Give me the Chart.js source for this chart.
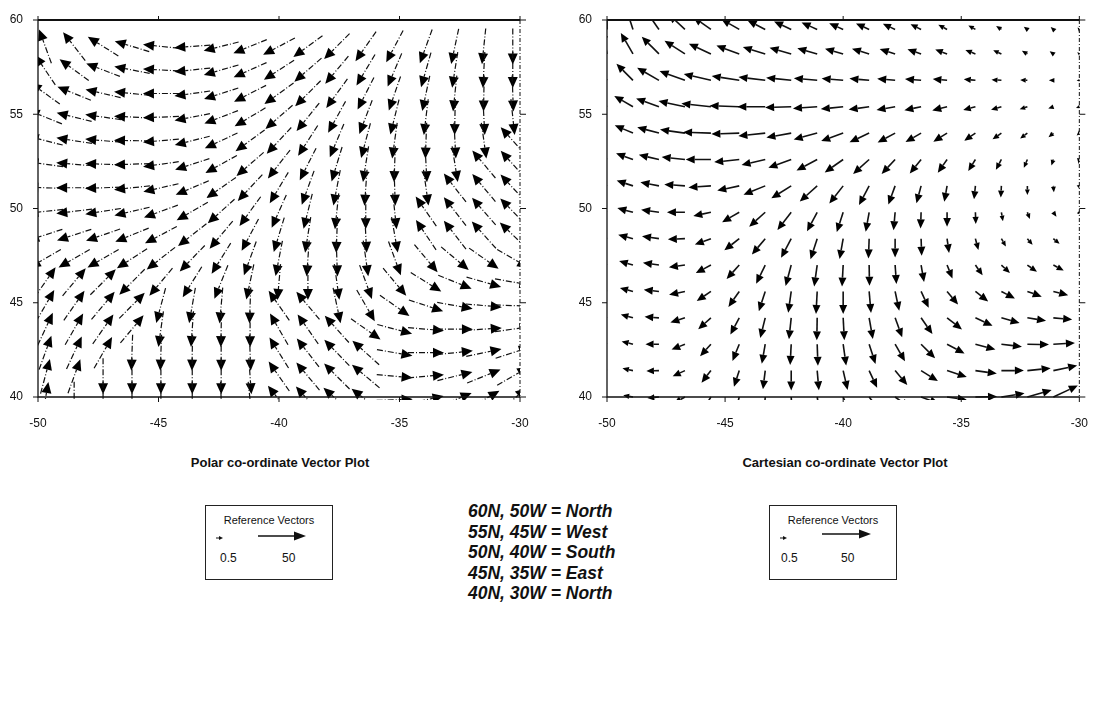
<!DOCTYPE html>
<html>
<head>
<meta charset="utf-8">
<script src="https://cdn.jsdelivr.net/npm/chart.js@4.4.1/dist/chart.umd.min.js"></script>
<style>
  body { margin: 0; background: #fff; width: 1099px; height: 725px; position: relative; overflow: hidden;
         font-family: Arial, "Liberation Sans", sans-serif; color: #111; }
  canvas { position: absolute; top: 0; }
  .title { position: absolute; top: 455px; width: 400px; text-align: center; font-weight: bold; font-size: 13px; line-height: 16px; }
  .refbox { position: absolute; top: 505px; width: 126px; height: 73px; border: 1px solid #222; }
  .refbox .cap { position: absolute; top: 8px; left: 0; width: 100%; text-align: center; font-size: 11px; }
  .refbox .num { position: absolute; top: 45px; font-size: 12px; }
  .refbox svg { position: absolute; left: 0; top: 0; }
  .names { position: absolute; left: 468px; top: 501px; font-weight: bold; font-style: italic; font-size: 17.5px; line-height: 20.5px; }
</style>
</head>
<body>
<canvas id="polarChart" width="545" height="440" style="left:0"></canvas>
<canvas id="cartChart" width="529" height="440" style="left:570px"></canvas>

<div class="title" style="left:80px">Polar co-ordinate Vector Plot</div>
<div class="title" style="left:645px">Cartesian co-ordinate Vector Plot</div>

<div class="refbox" id="refLeft" style="left:205px"></div>
<div class="names" id="names"></div>
<div class="refbox" id="refRight" style="left:769px"></div>

<script>
// axis ticks
const lonTicks = [-50, -45, -40, -35, -30];
const latTicks = [40, 45, 50, 55, 60];

// reference stations and the vectors given to them
const stationNames = ['60N, 50W', '55N, 45W', '50N, 40W', '45N, 35W', '40N, 30W'];
const stationDirs = ['North', 'West', 'South', 'East', 'North'];
const refValues = [0.5, 50];

// polar plot grid (arrow bearing in degrees, 0 = north, clockwise)
const polarLons = [-49.7, -48.5, -47.3, -46.1, -44.9, -43.6, -42.4, -41.2, -40.0, -38.8, -37.6, -36.4, -35.2, -33.9, -32.7, -31.5, -30.3];
const polarLats = [58.6, 57.35, 56.1, 54.85, 53.6, 52.35, 51.1, 49.85, 48.6, 47.35, 46.1, 44.85, 43.6, 42.35, 41.1, 39.85];
const polarDir = [
  [340, 322, 302, 287, 276, 266, 256, 248, 242, 234, 225, 215, 208, 200, 192, 186, 180],
  [326, 306, 291, 281, 273, 264, 254, 246, 237, 229, 220, 211, 203, 196, 189, 183, 180],
  [306, 292, 283, 276, 270, 262, 252, 243, 234, 225, 216, 207, 199, 192, 186, 181, 178],
  [292, 284, 278, 273, 268, 259, 249, 239, 229, 219, 209, 201, 194, 187, 181, 177, 174],
  [284, 279, 275, 271, 265, 256, 245, 234, 223, 213, 203, 195, 188, 182, 177, 172, 318],
  [278, 275, 272, 268, 262, 252, 241, 229, 218, 207, 197, 189, 182, 177, 171, 320, 318],
  [272, 270, 268, 264, 257, 247, 235, 223, 211, 200, 191, 184, 178, 172, 322, 320, 317],
  [264, 263, 261, 257, 250, 240, 228, 216, 204, 194, 186, 180, 174, 325, 322, 319, 316],
  [252, 252, 251, 248, 242, 232, 220, 208, 197, 189, 182, 177, 170, 326, 322, 318, 314],
  [240, 240, 240, 237, 232, 224, 212, 200, 191, 184, 178, 172, 160, 140, 130, 125, 120],
  [35, 40, 45, 225, 220, 212, 202, 192, 185, 180, 172, 160, 140, 122, 112, 106, 100],
  [30, 35, 40, 45, 195, 190, 185, 182, 325, 320, 168, 150, 125, 108, 100, 95, 92],
  [25, 30, 35, 40, 188, 184, 181, 180, 330, 325, 318, 125, 105, 95, 90, 86, 82],
  [20, 25, 30, 182, 182, 181, 180, 178, 328, 322, 316, 312, 100, 90, 84, 78, 72],
  [15, 20, 180, 180, 180, 180, 180, 176, 325, 320, 315, 310, 95, 85, 76, 68, 60],
  [10, 180, 180, 180, 180, 180, 178, 174, 322, 318, 312, 308, 88, 78, 68, 60, 50]
];
const polarSpeed = 40; // every polar arrow is drawn the same length

// cartesian plot grid
const cartLons = [-50, -48.9, -47.8, -46.7, -45.6, -44.4, -43.3, -42.2, -41.1, -40, -38.9, -37.8, -36.7, -35.6, -34.4, -33.3, -32.2, -31.1, -30];
const cartLats = [59.5, 58.2, 56.8, 55.4, 54.0, 52.6, 51.2, 49.8, 48.4, 47.0, 45.6, 44.2, 42.8, 41.4, 40.0];
const cartDir = [
  [0, 342, 325, 313, 305, 300, 297, 295, 294, 294, 294, 295, 296, 298, 300, 303, 307, 312, 318],
  [350, 330, 315, 303, 295, 290, 287, 286, 286, 286, 287, 288, 289, 290, 292, 295, 300, 305, 310],
  [330, 315, 300, 290, 283, 279, 277, 276, 275, 275, 275, 275, 275, 275, 275, 274, 272, 270, 268],
  [310, 300, 290, 282, 276, 272, 270, 268, 266, 264, 262, 260, 258, 256, 255, 254, 252, 250, 248],
  [300, 293, 285, 278, 272, 268, 264, 260, 255, 250, 245, 242, 240, 238, 236, 235, 233, 230, 228],
  [296, 290, 283, 276, 270, 264, 257, 250, 242, 235, 228, 223, 219, 215, 212, 208, 203, 198, 190],
  [294, 288, 281, 274, 266, 258, 248, 238, 228, 218, 208, 200, 195, 190, 186, 183, 180, 175, 165],
  [290, 285, 278, 270, 258, 240, 228, 218, 208, 198, 190, 185, 182, 180, 178, 170, 160, 145, 135],
  [292, 285, 278, 268, 250, 232, 220, 208, 198, 190, 182, 180, 178, 172, 165, 150, 140, 130, 125],
  [292, 286, 278, 262, 242, 222, 206, 195, 188, 183, 179, 176, 170, 158, 145, 133, 125, 118, 112],
  [292, 285, 276, 258, 236, 215, 198, 188, 183, 180, 175, 168, 155, 140, 128, 118, 110, 104, 100],
  [292, 285, 274, 252, 228, 208, 194, 186, 181, 177, 170, 160, 145, 128, 115, 106, 99, 95, 92],
  [290, 284, 270, 248, 222, 202, 190, 183, 178, 172, 162, 150, 135, 118, 105, 97, 91, 87, 84],
  [288, 282, 268, 245, 218, 198, 187, 180, 175, 167, 155, 140, 122, 108, 98, 90, 84, 78, 72],
  [285, 280, 265, 240, 212, 195, 184, 177, 170, 158, 142, 126, 110, 98, 89, 81, 74, 65, 52]
];
const cartSpeed = [
  [33, 30, 27, 25, 24, 23, 22, 21, 19, 17, 16, 15, 13, 11, 9, 7, 5, 4, 3],
  [28, 27, 27, 27, 27, 27, 26, 25, 23, 21, 20, 18, 16, 14, 12, 10, 7, 5, 3],
  [25, 26, 28, 30, 31, 31, 30, 28, 26, 24, 22, 20, 18, 16, 13, 11, 8, 5, 3],
  [22, 24, 27, 30, 33, 33, 31, 29, 27, 25, 23, 21, 19, 17, 14, 12, 9, 6, 4],
  [20, 22, 25, 28, 31, 31, 30, 28, 27, 26, 24, 22, 20, 18, 15, 12, 10, 7, 4],
  [18, 20, 23, 26, 28, 28, 27, 27, 26, 25, 24, 22, 20, 18, 15, 13, 10, 7, 5],
  [17, 19, 21, 23, 25, 25, 26, 26, 26, 25, 24, 22, 20, 18, 15, 13, 10, 7, 5],
  [15, 18, 20, 20, 20, 22, 24, 25, 24, 23, 22, 20, 18, 16, 13, 10, 8, 6, 5],
  [14, 17, 19, 19, 19, 21, 23, 24, 24, 23, 22, 21, 19, 16, 13, 10, 9, 9, 9],
  [13, 16, 18, 18, 19, 21, 23, 24, 24, 24, 23, 21, 19, 16, 14, 13, 13, 13, 13],
  [13, 15, 17, 18, 19, 21, 23, 24, 25, 25, 24, 22, 20, 19, 18, 17, 17, 17, 17],
  [12, 14, 16, 17, 19, 21, 23, 24, 25, 25, 24, 23, 22, 21, 21, 21, 21, 21, 21],
  [11, 13, 15, 16, 18, 20, 22, 23, 24, 24, 23, 22, 22, 22, 23, 23, 24, 24, 24],
  [10, 12, 14, 15, 17, 19, 21, 22, 22, 22, 21, 21, 22, 23, 24, 25, 26, 27, 28],
  [9, 11, 13, 14, 16, 18, 20, 21, 21, 20, 20, 20, 21, 22, 24, 26, 28, 30, 33]
];

const PX_PER_UNIT = 0.9;

function drawArrow(ctx, x0, y0, x1, y1, headLen, headW, dash) {
  const len = Math.hypot(x1 - x0, y1 - y0);
  const ux = (x1 - x0) / (len || 1), uy = (y1 - y0) / (len || 1);
  const h = Math.min(headLen, Math.max(5.5, len * 0.6));
  const w = headW * h / headLen;
  const bx = x1 - ux * h, by = y1 - uy * h;
  if (len > h) {
    ctx.setLineDash(dash);
    ctx.beginPath();
    ctx.moveTo(x0, y0);
    ctx.lineTo(bx, by);
    ctx.stroke();
    ctx.setLineDash([]);
  }
  ctx.beginPath();
  ctx.moveTo(x1, y1);
  ctx.lineTo(bx - uy * w / 2, by + ux * w / 2);
  ctx.lineTo(bx + uy * w / 2, by - ux * w / 2);
  ctx.closePath();
  ctx.fill();
}

const arrowPlugin = {
  id: 'arrows',
  afterDatasetsDraw(chart, args, opts) {
    const { ctx, chartArea: a } = chart;
    const pts = chart.data.datasets[0].data;
    const meta = chart.getDatasetMeta(0);
    ctx.save();
    ctx.beginPath();
    ctx.rect(a.left, a.top, a.right - a.left, a.bottom - a.top + 3);
    ctx.clip();
    ctx.strokeStyle = '#111';
    ctx.fillStyle = '#000';
    ctx.lineWidth = opts.lineWidth;
    meta.data.forEach((el, i) => {
      const p = pts[i];
      const L = p.speed * PX_PER_UNIT;
      const rad = p.dir * Math.PI / 180;
      const dx = Math.sin(rad) * L, dy = -Math.cos(rad) * L;
      let x0 = el.x, y0 = el.y;
      if (opts.centered) { x0 -= dx / 2; y0 -= dy / 2; }
      drawArrow(ctx, x0, y0, x0 + dx, y0 + dy, opts.head, opts.headW, opts.dash);
    });
    ctx.restore();
  }
};

const framePlugin = {
  id: 'frame',
  afterDraw(chart) {
    const { ctx, chartArea: a, scales } = chart;
    ctx.save();
    ctx.strokeStyle = '#111';
    ctx.lineWidth = 1.3;
    ctx.beginPath();
    ctx.moveTo(a.left, a.top); ctx.lineTo(a.left, a.bottom); ctx.lineTo(a.right, a.bottom);
    ctx.stroke();
    ctx.lineWidth = 2;
    ctx.beginPath(); ctx.moveTo(a.left, a.top); ctx.lineTo(a.right, a.top); ctx.stroke();
    ctx.lineWidth = 1;
    ctx.setLineDash([4, 2, 1, 2]);
    ctx.beginPath(); ctx.moveTo(a.right, a.top); ctx.lineTo(a.right, a.bottom); ctx.stroke();
    ctx.setLineDash([]);
    ctx.beginPath();
    lonTicks.forEach(v => {
      const x = scales.x.getPixelForValue(v);
      ctx.moveTo(x, a.bottom); ctx.lineTo(x, a.bottom + 5);
      ctx.moveTo(x, a.top); ctx.lineTo(x, a.top - 4);
    });
    latTicks.forEach(v => {
      const y = scales.y.getPixelForValue(v);
      ctx.moveTo(a.left, y); ctx.lineTo(a.left - 5, y);
      ctx.moveTo(a.right, y); ctx.lineTo(a.right + 6, y);
    });
    ctx.stroke();
    ctx.restore();
  }
};

function gridPoints(lons, lats, dirs, speeds) {
  const out = [];
  lats.forEach((lat, r) => lons.forEach((lon, c) => {
    out.push({ x: lon, y: lat, dir: dirs[r][c], speed: Array.isArray(speeds) ? speeds[r][c] : speeds });
  }));
  return out;
}

function vectorChart(id, points, padRight, yWidth, arrowOpts) {
  return new Chart(document.getElementById(id), {
    type: 'scatter',
    data: { datasets: [{ data: points, pointRadius: 0, pointHoverRadius: 0 }] },
    options: {
      responsive: false,
      animation: false,
      events: [],
      layout: { padding: { top: 20, right: padRight, left: 0, bottom: 0 } },
      plugins: { legend: { display: false }, tooltip: { enabled: false }, arrows: arrowOpts },
      scales: {
        x: {
          type: 'linear', min: -50, max: -30,
          afterBuildTicks: s => { s.ticks = lonTicks.map(v => ({ value: v })); },
          afterFit: s => { s.height = 43; },
          ticks: { color: '#111', padding: 11, font: { family: 'Arial', size: 12 }, callback: v => String(v) },
          grid: { display: false }, border: { display: false }
        },
        y: {
          type: 'linear', min: 40, max: 60,
          afterBuildTicks: s => { s.ticks = latTicks.map(v => ({ value: v })); },
          afterFit: s => { s.width = yWidth; },
          ticks: { color: '#111', padding: 7, font: { family: 'Arial', size: 12 }, callback: v => String(v) },
          grid: { display: false }, border: { display: false }
        }
      }
    },
    plugins: [arrowPlugin, framePlugin]
  });
}

vectorChart('polarChart', gridPoints(polarLons, polarLats, polarDir, polarSpeed), 25, 38,
  { centered: true, head: 11, headW: 10, lineWidth: 1.2, dash: [6, 2, 1, 2] });
vectorChart('cartChart', gridPoints(cartLons, cartLats, cartDir, cartSpeed), 14, 37,
  { centered: false, head: 9, headW: 8, lineWidth: 1.6, dash: [] });

// reference vector boxes
function refBox(el, shortX, longX0, longX1, longY, numX) {
  el.innerHTML = '<div class="cap">Reference Vectors</div>' +
    '<div class="num" style="left:' + numX[0] + 'px">' + refValues[0] + '</div>' +
    '<div class="num" style="left:' + numX[1] + 'px">' + refValues[1] + '</div>' +
    '<svg width="126" height="73">' +
    '<line x1="' + shortX + '" y1="32" x2="' + (shortX + 3) + '" y2="32" stroke="#111" stroke-width="1"/>' +
    '<polygon points="' + (shortX + 7) + ',32 ' + (shortX + 3) + ',30 ' + (shortX + 3) + ',34" fill="#111"/>' +
    '<line x1="' + longX0 + '" y1="' + longY + '" x2="' + (longX1 - 9) + '" y2="' + longY + '" stroke="#111" stroke-width="1.4"/>' +
    '<polygon points="' + longX1 + ',' + longY + ' ' + (longX1 - 12) + ',' + (longY - 4.5) + ' ' + (longX1 - 12) + ',' + (longY + 4.5) + '" fill="#111"/>' +
    '</svg>';
}
refBox(document.getElementById('refLeft'), 10, 52, 100, 30, [14, 76]);
refBox(document.getElementById('refRight'), 10, 52, 101, 28, [11, 71]);

document.getElementById('names').innerHTML =
  stationNames.map((n, i) => n + ' = ' + stationDirs[i]).join('<br>');
</script>
</body>
</html>
